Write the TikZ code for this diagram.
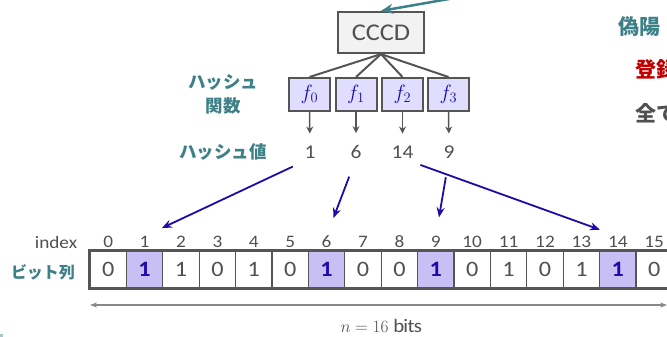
\documentclass[tikz,border=0pt]{standalone}
\usepackage{fontspec}
\setmainfont{Carlito}[FakeStretch=1.1]
\newfontfamily\jp{Noto Sans CJK JP}
\usetikzlibrary{arrows.meta}
\definecolor{teal1}{RGB}{62,128,135}
\definecolor{dgray}{RGB}{85,85,85}
\definecolor{tgray}{RGB}{80,80,80}
\definecolor{bblue}{RGB}{30,10,170}
\definecolor{lav}{RGB}{224,221,255}
\definecolor{lavd}{RGB}{200,192,245}
\definecolor{red1}{RGB}{192,0,0}
\definecolor{boxg}{RGB}{242,242,242}
\definecolor{lgray}{RGB}{136,136,136}
\tikzset{
  cccdbox/.style={draw=dgray, line width=2.2pt, fill=boxg, minimum width=86pt, minimum height=41pt, inner sep=0pt, text=tgray, font=\fontsize{24}{26}\selectfont},
  fbox/.style={draw=dgray, line width=2pt, fill=lav, minimum width=41pt, minimum height=33pt, inner sep=0pt, text=bblue, font=\fontsize{21}{22}\selectfont},
  hval/.style={inner sep=0pt, text=tgray, font=\fontsize{19.5}{21}\selectfont},
  jplabel/.style={text=teal1, font=\jp\bfseries\fontsize{17.5}{24}\selectfont, align=center, inner sep=0pt},
  idx/.style={inner sep=0pt, text=tgray, font=\fontsize{17.5}{19}\selectfont},
  cell/.style={draw=dgray, line width=1.1pt, fill=white, minimum width=36.4pt, minimum height=37pt, inner sep=0pt, text=tgray, font=\fontsize{22}{24}\selectfont},
  hcell/.style={cell, fill=lavd, text=bblue, font=\bfseries\fontsize{22}{24}\selectfont},
  link/.style={draw=dgray, line width=2pt},
  garrow/.style={draw=dgray, line width=1.5pt, -{Stealth[length=7pt,width=7pt]}},
  barrow/.style={draw=bblue, line width=1.8pt, -{Stealth[length=10pt,width=8pt]}},
  tarrow/.style={draw=teal1, line width=2.5pt, -{Stealth[length=12pt,width=10pt]}},
  sidetext/.style={anchor=west, inner sep=0pt, font=\jp\bfseries\fontsize{21}{24}\selectfont}
}
\begin{document}
\begin{tikzpicture}[x=1pt,y=-1pt]
\useasboundingbox (0,0) rectangle (667,337);
\clip (0,0) rectangle (667,337);

% top box and hash functions
\node[cccdbox] (cccd) at (381,32.5) {CCCD};
\coordinate (tin) at (470,-4.7);
\draw[tarrow] (tin) -- (cccd.north);

\foreach \i/\x in {0/309.5,1/356,2/402.5,3/448.5}{
  \node[fbox] (f\i) at (\x,94.5) {$f_{\i}$};
  \draw[link] (cccd.south) -- (f\i.north);
}

% hash values
\node[hval] (h0) at (310,152) {1};
\node[hval] (h1) at (356,152) {6};
\node[hval] (h2) at (402.5,152) {14};
\node[hval] (h3) at (449,152) {9};
\foreach \i in {0,1,2,3}{
  \draw[garrow, shorten >=12pt] (f\i.south) -- (h\i.north);
}

% labels
\node[jplabel] (lbf) at (223,94) {ハッシュ\\関数};
\node[jplabel] (lbh) at (223,152) {ハッシュ値};
\node[jplabel, font=\jp\bfseries\fontsize{16}{20}\selectfont] (lbb) at (43,272) {ビット列};
\node[idx] (lbi) at (56,242) {index};

% bit array
\foreach \i/\v in {0/0,2/1,3/0,4/1,5/0,7/0,8/0,10/0,11/1,12/0,13/1,15/0}{
  \node[cell] (c\i) at ({108.2+36.4*\i},269.5) {\v};
}
\foreach \i in {1,6,9,14}{
  \node[hcell] (c\i) at ({108.2+36.4*\i},269.5) {1};
}
\foreach \i in {0,...,15}{
  \node[idx] (i\i) at ({108.2+36.4*\i},242) {\i};
}
\draw[dgray, line width=2.4pt] (c0.north west) rectangle (c15.south east);

% hash value to bit arrows
\draw[barrow, shorten <=19pt, shorten >=19pt] (h0.south) -- (i1.north);
\draw[barrow, shorten <=19pt, shorten >=19pt] (h1.south) -- (i6.north);
\draw[barrow, shorten <=19pt, shorten >=19pt] (h2.south) -- (i14.north);
\draw[barrow, shorten <=19pt, shorten >=19pt] (h3.south) -- (i9.north);

% size arrow
\coordinate (al) at (90,305);
\coordinate (ar) at (667,305);
\draw[lgray, line width=1.3pt, {Stealth[length=7pt,width=5pt]}-{Stealth[length=7pt,width=5pt]}] (al) -- (ar);
\node[inner sep=0pt, text=tgray, font=\fontsize{19}{21}\selectfont] (nb) at (381,325.5) {$n = 16\ \mathrm{bits}$};

% right side texts (cut off)
\node[sidetext, text=teal1] (s1) at (618,27) {偽陽};
\node[sidetext, text=red1] (s2) at (635,70) {登録};
\node[sidetext, text=tgray] (s3) at (635,113) {全て};

% small mark
\fill[teal1!45] (0,333.5) rectangle (3,337);
\end{tikzpicture}
\end{document}
